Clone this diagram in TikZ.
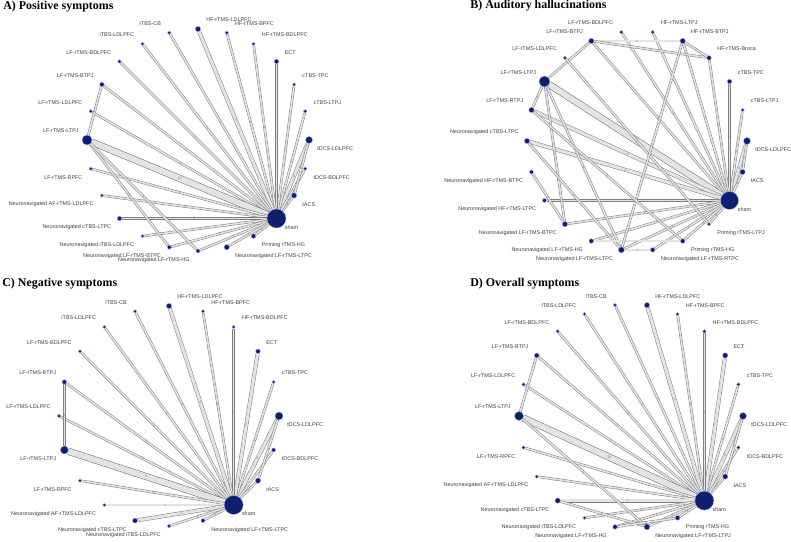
\documentclass[tikz,border=0pt]{standalone}
\usepackage{fontspec}
\setmainfont{Liberation Serif}
\setsansfont{Liberation Sans}
\usetikzlibrary{backgrounds}
\definecolor{nodeblue}{RGB}{12,32,110}
\tikzset{
  nd/.style={circle, fill=nodeblue, draw=blue!35, line width=0.2pt, inner sep=0pt},
  lbl/.style={font=\sffamily\fontsize{3.1}{4}\selectfont, text=black!75, inner sep=0pt},
  ttl/.style={font=\bfseries\fontsize{6.8}{8}\selectfont, anchor=west, inner sep=0pt},
  ed/.style={draw=black!50, line width=0.28pt, double=gray!22, double distance=0.9pt},
  edm/.style={ed, double distance=1.7pt},
  edt/.style={ed, draw=black!60, double distance=3.4pt},
  cnt/.style={font=\sffamily\fontsize{2}{2}\selectfont, text=black!50, inner sep=0pt},
}
% node on the circle of radius \netr, label set by quadrant
\newcommand{\netnode}[4]{%
  \node[nd, minimum size=#3*0.04cm] (#1) at (#2:\netr) {};
  \pgfmathsetmacro\qa{45+90*floor((#2-0.01)/90)}
  \pgfmathsetmacro\qx{cos(\qa)>0 ? 8 : -8}
  \pgfmathsetmacro\qy{sin(\qa)>0 ? 9 : -9}
  \ifdim\qx pt>0pt\def\qanc{west}\else\def\qanc{east}\fi
  \node[lbl, anchor=\qanc, xshift=\qx*0.02cm, yshift=\qy*0.02cm] (#1-l) at (#1) {#4};
}

\begin{document}
\begin{tikzpicture}[x=0.02cm, y=0.02cm]
  \useasboundingbox (0,0) rectangle (791,541);

  \node[ttl] (ttlA) at (3,534) {A) Positive symptoms};
  \node[ttl] (ttlB) at (470,535) {B) Auditory hallucinations};
  \node[ttl] (ttlC) at (2,257) {C) Negative symptoms};
  \node[ttl] (ttlD) at (470,257) {D) Overall symptoms};

  % A) positive symptoms
  \begin{scope}[shift={(198,401)}]
    \def\netr{111}
    \foreach \ang/\nm/\rad/\txt in {
      0/tdcsL/3.5/tDCS-LDLPFC, 15/ctbsLTPJ/1.8/cTBS-LTPJ, 30/ctbsTPC/1.8/cTBS-TPC,
      45/ect/2.3/ECT, 60/hfBDL/1.8/HF-rTMS-BDLPFC, 75/hfBPFC/1.8/HF-rTMS-BPFC,
      90/hfLDL/2.7/HF-rTMS-LDLPFC, 105/itbsCB/1.8/iTBS-CB, 120/itbsLDL/1.8/iTBS-LDLPFC,
      135/lfBDL/1.8/LF-rTMS-BDLPFC, 150/lfBTPJ/2.3/LF-rTMS-BTPJ, 165/lfLDL/1.8/LF-rTMS-LDLPFC,
      180/lfLTPJ/5/LF-rTMS-LTPJ, 195/lfRPFC/1.8/LF-rTMS-RPFC,
      210/nnAF/1.8/Neuronavigated AF-rTMS-LDLPFC, 225/nnCTBS/2.3/Neuronavigated cTBS-LTPC,
      240/nnITBS/1.8/Neuronavigated iTBS-LDLPFC, 255/nnBTPC/2/Neuronavigated LF-rTMS-BTPC,
      270/nnHG/2/Neuronavigated LF-rTMS-HG, 285/nnLTPC/2.7/Neuronavigated LF-rTMS-LTPC,
      300/primHG/2.3/Priming rTMS-HG, 315/sham/9.5/sham, 330/tacs/2.7/tACS,
      345/tdcsB/1.8/tDCS-BDLPFC}
      \netnode{a-\nm}{\ang}{\rad}{\txt};
  \end{scope}
  \begin{scope}[on background layer]
    \foreach \u/\s/\n in {tdcsL/edm/3, ctbsLTPJ/ed/1, ctbsTPC/ed/1, ect/ed/2, hfBDL/ed/1,
      hfBPFC/ed/1, hfLDL/edm/3, itbsCB/ed/1, itbsLDL/ed/1, lfBDL/ed/1, lfBTPJ/ed/1,
      lfLDL/ed/1, lfLTPJ/edt/10, lfRPFC/ed/1, nnAF/ed/1, nnCTBS/ed/2, nnITBS/ed/1,
      nnBTPC/ed/1, nnHG/ed/1, nnLTPC/ed/1, primHG/ed/1, tacs/ed/2, tdcsB/ed/1}
      \draw[\s] (a-\u) -- node[cnt]{\n} (a-sham);
    \draw[ed] (a-lfBTPJ) -- node[cnt]{1} (a-lfLTPJ);
    \draw[ed] (a-lfLTPJ) -- node[cnt]{1} (a-nnBTPC);
    \draw[ed] (a-lfLTPJ) -- node[cnt]{1} (a-nnHG);
    \draw[ed] (a-tdcsL) -- node[cnt]{1} (a-tacs);
  \end{scope}

  % B) auditory hallucinations
  \begin{scope}[shift={(637,400)}]
    \def\netr{110}
    \foreach \ang/\nm/\rad/\txt in {
      0/tdcsL/3.5/tDCS-LDLPFC, 16.36/ctbsLTPJ/1.8/cTBS-LTPJ, 32.73/ctbsTPC/2.3/cTBS-TPC,
      49.09/hfBroca/2.3/HF-rTMS-Broca, 65.45/hfBTPJ/2.7/HF-rTMS-BTPJ,
      81.82/hfLTPJ/1.8/HF-rTMS-LTPJ, 98.18/lfBDL/1.8/LF-rTMS-BDLPFC,
      114.55/lfBTPJ/2.7/LF-rTMS-BTPJ, 130.91/lfLDL/1.8/LF-rTMS-LDLPFC,
      147.27/lfLTPJ/5.5/LF-rTMS-LTPJ, 163.64/lfRTPJ/2.7/LF-rTMS-RTPJ,
      180/nnCTBS/2.7/Neuronavigated cTBS-LTPC, 196.36/nnHFB/2/Neuronavigated HF-rTMS-BTPC,
      212.73/nnHFL/2/Neuronavigated HF-rTMS-LTPC, 229.09/nnLFB/2.7/Neuronavigated LF-rTMS-BTPC,
      245.45/nnHG/2.3/Neuronavigated LF-rTMS-HG, 261.82/nnLTPC/3/Neuronavigated LF-rTMS-LTPC,
      278.18/nnRTPC/2.3/Neuronavigated LF-rTMS-RTPC, 294.55/primHG/2.3/Priming rTMS-HG,
      310.91/primLTPJ/1.8/Priming rTMS-LTPJ, 327.27/sham/9/sham, 343.64/tacs/2.7/tACS}
      \netnode{b-\nm}{\ang}{\rad}{\txt};
  \end{scope}
  \begin{scope}[on background layer]
    \foreach \u/\s/\n in {tdcsL/edm/3, ctbsLTPJ/ed/1, ctbsTPC/ed/1, hfBroca/ed/1,
      hfBTPJ/ed/1, hfLTPJ/ed/1, lfBDL/ed/1, lfBTPJ/ed/1, lfLTPJ/edt/9, lfRTPJ/edm/2,
      nnCTBS/edm/2, nnHFL/ed/1, nnLFB/ed/1, nnHG/ed/1, nnLTPC/ed/1, nnRTPC/ed/1,
      primHG/ed/1, primLTPJ/ed/1, tacs/ed/2}
      \draw[\s] (b-\u) -- node[cnt]{\n} (b-sham);
    \draw[ed] (b-lfBTPJ) -- node[cnt]{1} (b-hfBTPJ);
    \draw[ed] (b-lfBTPJ) -- node[cnt]{1} (b-hfBroca);
    \draw[ed] (b-hfBTPJ) -- node[cnt]{1} (b-hfBroca);
    \draw[ed] (b-lfBTPJ) -- node[cnt]{1} (b-lfLTPJ);
    \draw[ed] (b-lfLTPJ) -- node[cnt]{1} (b-lfRTPJ);
    \draw[ed] (b-lfLTPJ) -- node[cnt]{1} (b-nnLFB);
    \draw[ed] (b-lfLTPJ) -- node[cnt]{1} (b-nnLTPC);
    \draw[ed] (b-nnCTBS) -- node[cnt]{1} (b-nnLTPC);
    \draw[ed] (b-nnHFB) -- node[cnt]{1} (b-nnLFB);
    \draw[ed] (b-nnLTPC) -- node[cnt]{1} (b-nnRTPC);
    \draw[ed] (b-nnHG) -- node[cnt]{1} (b-primHG);
    \draw[ed] (b-lfLDL) -- node[cnt]{1} (b-primLTPJ);
    \draw[ed] (b-hfBTPJ) -- node[cnt]{1} (b-nnLTPC);
    \draw[ed] (b-lfRTPJ) -- node[cnt]{1} (b-primHG);
    \draw[ed] (b-tdcsL) -- node[cnt]{1} (b-tacs);
  \end{scope}

  % C) negative symptoms
  \begin{scope}[shift={(169,125)}]
    \def\netr{110}
    \foreach \ang/\nm/\rad/\txt in {
      0/tdcsL/4/tDCS-LDLPFC, 18/ctbsTPC/1.8/cTBS-TPC, 36/ect/2.3/ECT,
      54/hfBDL/1.8/HF-rTMS-BDLPFC, 72/hfBPFC/1.8/HF-rTMS-BPFC, 90/hfLDL/2.7/HF-rTMS-LDLPFC,
      108/itbsCB/1.8/iTBS-CB, 126/itbsLDL/1.8/iTBS-LDLPFC, 144/lfBDL/1.8/LF-rTMS-BDLPFC,
      162/lfBTPJ/2.3/LF-rTMS-BTPJ, 180/lfLDL/1.8/LF-rTMS-LDLPFC, 198/lfLTPJ/4/LF-rTMS-LTPJ,
      216/lfRPFC/1.8/LF-rTMS-RPFC, 234/nnAF/1.8/Neuronavigated AF-rTMS-LDLPFC,
      252/nnCTBS/2.5/Neuronavigated cTBS-LTPC, 270/nnITBS/1.8/Neuronavigated iTBS-LDLPFC,
      288/nnLTPC/2/Neuronavigated LF-rTMS-LTPC, 306/sham/9.5/sham, 324/tacs/2.7/tACS,
      342/tdcsB/2/tDCS-BDLPFC}
      \netnode{c-\nm}{\ang}{\rad}{\txt};
  \end{scope}
  \begin{scope}[on background layer]
    \foreach \u/\s/\n in {tdcsL/edm/3, ctbsTPC/ed/1, ect/edm/2, hfBDL/ed/1, hfBPFC/ed/1,
      hfLDL/edm/3, itbsCB/ed/1, itbsLDL/ed/1, lfBDL/ed/1, lfBTPJ/ed/1, lfLDL/ed/1,
      lfLTPJ/edt/8, lfRPFC/ed/1, nnAF/ed/1, nnCTBS/edm/2, nnITBS/ed/1, nnLTPC/ed/1,
      tacs/ed/2, tdcsB/ed/1}
      \draw[\s] (c-\u) -- node[cnt]{\n} (c-sham);
    \draw[ed] (c-lfBTPJ) -- node[cnt]{1} (c-lfLTPJ);
    \draw[ed] (c-tdcsL) -- node[cnt]{1} (c-tacs);
  \end{scope}

  % D) overall symptoms
  \begin{scope}[shift={(631,125)}]
    \def\netr{112}
    \foreach \ang/\nm/\rad/\txt in {
      0/tdcsL/3.5/tDCS-LDLPFC, 16.36/ctbsTPC/1.8/cTBS-TPC, 32.73/ect/2.7/ECT,
      49.09/hfBDL/1.8/HF-rTMS-BDLPFC, 65.45/hfBPFC/1.8/HF-rTMS-BPFC,
      81.82/hfLDL/2.7/HF-rTMS-LDLPFC, 98.18/itbsCB/1.8/iTBS-CB,
      114.55/itbsLDL/1.8/iTBS-LDLPFC, 130.91/lfBDL/1.8/LF-rTMS-BDLPFC,
      147.27/lfBTPJ/2.4/LF-rTMS-BTPJ, 163.64/lfLDL/1.8/LF-rTMS-LDLPFC,
      180/lfLTPJ/4.5/LF-rTMS-LTPJ, 196.36/lfRPFC/1.8/LF-rTMS-RPFC,
      212.73/nnAF/1.8/Neuronavigated AF-rTMS-LDLPFC, 229.09/nnCTBS/2.7/Neuronavigated cTBS-LTPC,
      245.45/nnITBS/1.8/Neuronavigated iTBS-LDLPFC, 261.82/nnHG/2.3/Neuronavigated LF-rTMS-HG,
      278.18/nnLTPJ/3/Neuronavigated LF-rTMS-LTPJ, 294.55/primHG/2.4/Priming rTMS-HG,
      310.91/sham/9.5/sham, 327.27/tacs/2.7/tACS, 343.64/tdcsB/1.8/tDCS-BDLPFC}
      \netnode{d-\nm}{\ang}{\rad}{\txt};
  \end{scope}
  \begin{scope}[on background layer]
    \foreach \u/\s/\n in {tdcsL/edm/3, ctbsTPC/ed/1, ect/edm/2, hfBDL/ed/1, hfBPFC/ed/1,
      hfLDL/edm/3, itbsCB/ed/1, itbsLDL/ed/1, lfBDL/ed/1, lfBTPJ/ed/1, lfLDL/ed/1,
      lfLTPJ/edt/10, lfRPFC/ed/1, nnAF/ed/1, nnCTBS/edm/2, nnITBS/ed/1, nnHG/ed/1,
      nnLTPJ/ed/1, primHG/ed/1, tacs/ed/2, tdcsB/ed/1}
      \draw[\s] (d-\u) -- node[cnt]{\n} (d-sham);
    \draw[ed] (d-lfBTPJ) -- node[cnt]{1} (d-lfLTPJ);
    \draw[ed] (d-lfLTPJ) -- node[cnt]{1} (d-nnLTPJ);
    \draw[ed] (d-nnCTBS) -- node[cnt]{1} (d-nnLTPJ);
    \draw[ed] (d-nnHG) -- node[cnt]{1} (d-primHG);
    \draw[ed] (d-tdcsL) -- node[cnt]{1} (d-tacs);
  \end{scope}
\end{tikzpicture}
\end{document}
